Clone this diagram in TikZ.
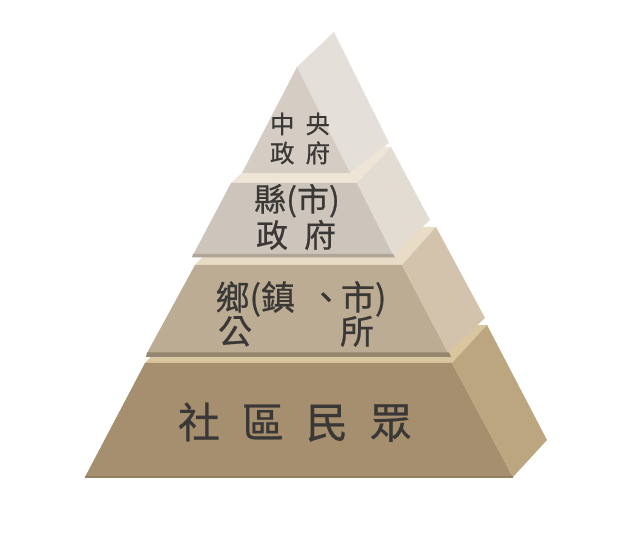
\documentclass[tikz,border=0pt]{standalone}
\usepackage{fontspec}
\newfontfamily\cjk[FakeBold=0.6]{Noto Sans CJK TC}
\definecolor{txt}{HTML}{3A3836}
\definecolor{lAtop}{HTML}{D9C69E}
\definecolor{lAfront}{HTML}{A58F6F}
\definecolor{lAside}{HTML}{BCA680}
\definecolor{lAbev}{HTML}{938063}
\definecolor{lBtop}{HTML}{E9DCC6}
\definecolor{lBfront}{HTML}{BDAC94}
\definecolor{lBside}{HTML}{D3C3AD}
\definecolor{lBbev}{HTML}{958672}
\definecolor{lCtop}{HTML}{EFE5D7}
\definecolor{lCfront}{HTML}{CDC5BB}
\definecolor{lCside}{HTML}{E2DCD3}
\definecolor{lCbev}{HTML}{B0A597}
\definecolor{lDfront}{HTML}{D5CDC4}
\definecolor{lDside}{HTML}{E4DFD8}
\tikzset{
  lbl/.style={inner sep=0pt, text=txt},
  fA/.style={font={\cjk\fontsize{24.5pt}{24.5pt}\selectfont}, text height=20.6pt, text depth=2pt},
  fB/.style={font={\cjk\fontsize{32pt}{32pt}\selectfont}, text height=26.9pt, text depth=2.6pt},
  fC/.style={font={\cjk\fontsize{34pt}{34pt}\selectfont}, text height=28.6pt, text depth=2.7pt},
  fD/.style={font={\cjk\fontsize{42pt}{42pt}\selectfont}, text height=35.3pt, text depth=3.4pt},
}
\begin{document}
\begin{tikzpicture}[x=1pt,y=-1pt]
\useasboundingbox[fill=white] (0,0) rectangle (640,534);
% layer 4 (bottom)
\fill[lAtop] (145,363) -- (452,363) -- (487,325) -- (180,325) -- cycle;
\fill[lAfront] (145,363) -- (452,363) -- (513,477) -- (85,477) -- cycle;
\fill[lAside] (452,363) -- (487,325) -- (547,440) -- (513,477) -- cycle;
\fill[lAbev] (85,476) -- (513,476) -- (513,478) -- (85,478) -- cycle;
% layer 3
\fill[lBtop] (195,265) -- (402,265) -- (436,227) -- (230,227) -- cycle;
\fill[lBfront] (195,265) -- (402,265) -- (448,353) -- (147,353) -- cycle;
\fill[lBside] (402,265) -- (436,227) -- (485,318) -- (448,353) -- cycle;
\fill[lBbev] (147,352.5) -- (449,352.5) -- (451,357) -- (146,357) -- cycle;
% layer 2
\fill[lCtop] (231,183) -- (357,183) -- (391,147) -- (270,147) -- cycle;
\fill[lCfront] (231,183) -- (357,183) -- (393,255) -- (193,255) -- cycle;
\fill[lCside] (357,183) -- (391,147) -- (430,220) -- (393,255) -- cycle;
\fill[lCbev] (193,254) -- (393,254) -- (395,257.5) -- (192,257.5) -- cycle;
% layer 1 (top)
\fill[lDside] (297,67) -- (334,32) -- (389,143) -- (350,173) -- cycle;
\fill[lDfront] (297,67) -- (350,173) -- (242,173) -- cycle;
% labels
\node[lbl,fA] (t1a) at (300,124) {中\hspace{11pt}央};
\node[lbl,fA] (t1b) at (300,153) {政\hspace{11pt}府};
\node[lbl,fB] (t2a) at (297,199) {縣(市)};
\node[lbl,fB] (t2b) at (296,235) {政\hspace{16pt}府};
\node[lbl,fC] (t3a) at (301,297) {鄉(鎮\hspace{14pt}、\hspace{-2pt}市)};
\node[lbl,fC] (t3b) at (296,331) {公\hspace{88pt}所};
\node[lbl,fD] (t4) at (295,422) {社\hspace{22pt}區\hspace{22pt}民\hspace{22pt}眾};
\end{tikzpicture}
\end{document}
